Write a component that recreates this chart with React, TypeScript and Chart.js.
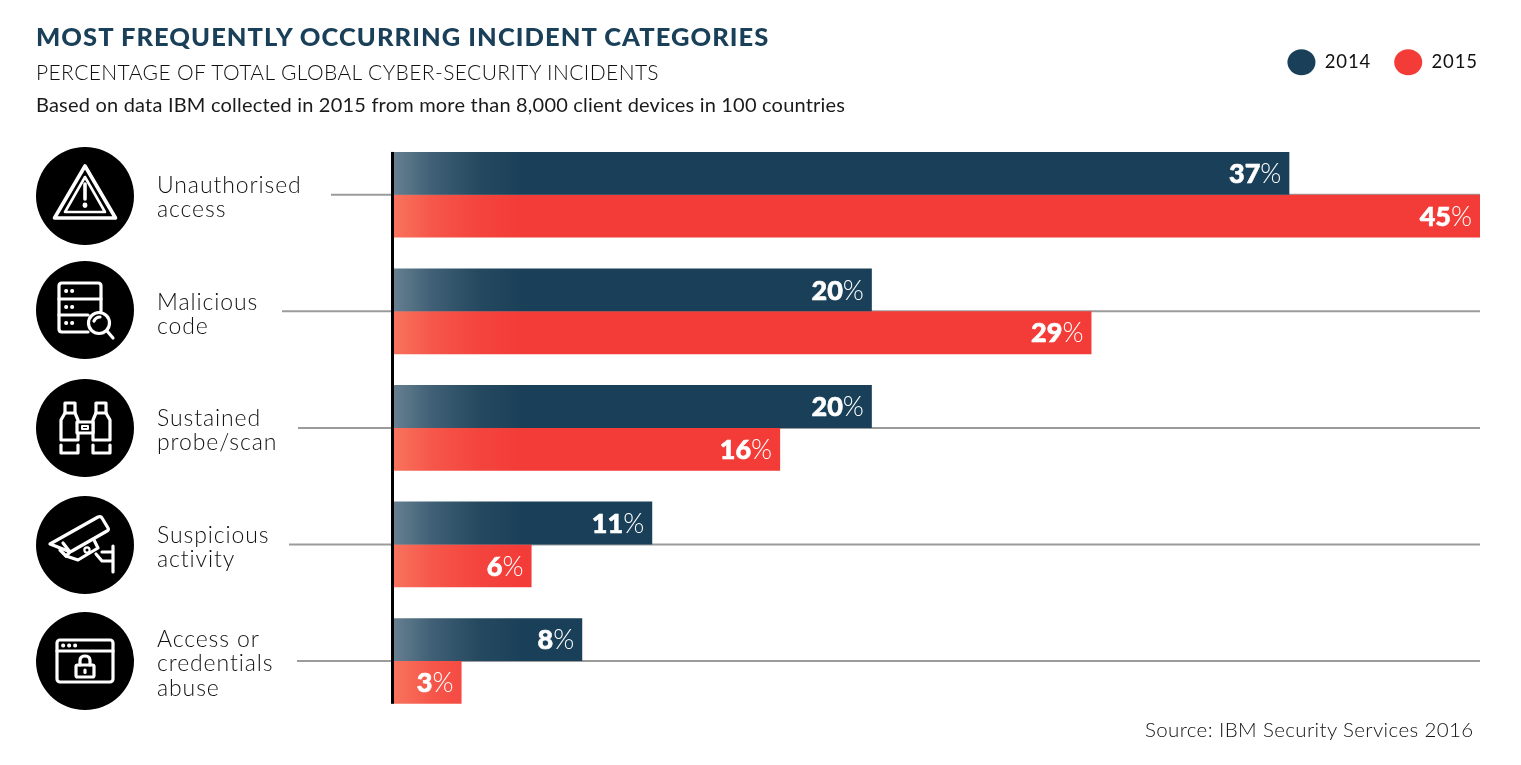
import React, { useEffect, useRef } from "react";
import { Chart, registerables } from "chart.js";

Chart.register(...registerables);

const categories: string[][] = [
  ["Unauthorised", "access"],
  ["Malicious", "code"],
  ["Sustained", "probe/scan"],
  ["Suspicious", "activity"],
  ["Access or", "credentials", "abuse"],
];
const values2014 = [37.1, 19.8, 19.8, 10.7, 7.8];
const values2015 = [45, 28.9, 16.0, 5.7, 2.8];
const seriesNames = ["2014", "2015"];

const DARK = "#1a4059";
const RED = "#f33b37";
const SANS = "Lato, 'Open Sans', sans-serif";

const LEADER_START = [331, 282, 298, 289, 297];
const LEFT = 394;
const AXIS_MAX = 45;
const LABEL_SHIFT = 3;

function gradient(chart: Chart, stops: string[]) {
  const g = chart.ctx.createLinearGradient(LEFT, 0, LEFT + 130, 0);
  const at = [0, 0.3, 0.65, 1];
  stops.forEach((c, i) => g.addColorStop(at[i], c));
  return g;
}

const frame = {
  id: "frame",
  beforeUpdate(chart: any) {
    chart.ctx.letterSpacing = "0.9px";
  },
  afterLayout(chart: any) {
    chart.legend.right = 1501;
  },
  beforeDraw(chart: any) {
    if (chart.$labelsShifted) return;
    chart.$labelsShifted = true;
    chart.scales.y.getLabelItems().forEach((item: any) => {
      item.options.translation[1] += LABEL_SHIFT;
    });
  },
  beforeDatasetsDraw(chart: any) {
    const { ctx, chartArea, scales } = chart;
    ctx.save();
    ctx.strokeStyle = "#9b9b9b";
    ctx.lineWidth = 2;
    categories.forEach((_, i) => {
      const y = scales.y.getPixelForValue(i);
      ctx.beginPath();
      ctx.moveTo(LEADER_START[i], y);
      ctx.lineTo(chartArea.right, y);
      ctx.stroke();
    });
    ctx.restore();
  },
  afterDatasetsDraw(chart: any) {
    const { ctx, chartArea } = chart;
    const first = chart.getDatasetMeta(0).data[0];
    const last = chart.getDatasetMeta(1).data[categories.length - 1];
    const top = first.y - first.height / 2;
    const bottom = last.y + last.height / 2;
    ctx.save();
    ctx.letterSpacing = "0px";
    ctx.fillStyle = "#000";
    ctx.fillRect(chartArea.left - 3, top, 3, bottom - top);

    ctx.textBaseline = "middle";
    ctx.fillStyle = "#fff";
    ctx.strokeStyle = "#fff";
    ctx.lineWidth = 0.6;
    chart.data.datasets.forEach((ds: any, d: number) => {
      chart.getDatasetMeta(d).data.forEach((bar: any, i: number) => {
        const num = String(Math.round(ds.data[i]));
        let x = bar.x - 8;
        ctx.textAlign = "right";
        ctx.font = `300 27px ${SANS}`;
        ctx.fillText("%", x, bar.y + 1);
        x -= ctx.measureText("%").width;
        ctx.font = `900 27px ${SANS}`;
        ctx.fillText(num, x, bar.y + 1);
        ctx.strokeText(num, x, bar.y + 1);
      });
    });
    ctx.restore();
  },
};

const iconStyle: React.CSSProperties = { fill: "none", stroke: "#fff", strokeWidth: 3.2, strokeLinejoin: "round", strokeLinecap: "round" };

const icons: React.ReactNode[] = [
  <g style={iconStyle}>
    <path d="M49 19 L79.5 71 H18.5 Z" strokeWidth={3.6} />
    <path d="M49 30 L69 65 H29 Z" strokeWidth={2.6} />
    <path d="M49 37 V52" strokeWidth={3.6} />
    <path d="M49 58 V58.5" strokeWidth={4.8} />
  </g>,
  <g style={iconStyle}>
    <path d="M52 71 H26 Q23 71 23 68 V25 Q23 22 26 22 H62 Q65 22 65 25 V50" />
    <path d="M23 38 H65 M23 54 H52" />
    <path d="M30 30 H30.3 M36 30 H36.3 M30 46 H30.3 M36 46 H36.3 M30 62 H30.3 M36 62 H36.3" strokeWidth={3.8} />
    <circle cx="63" cy="62" r="10.5" />
    <path d="M71 70 L77 77 M58 60 Q60 56 64 56" />
  </g>,
  <g style={iconStyle}>
    <path d="M29 34 V24 H39 V34 M60 34 V24 H70 V34" />
    <path d="M25 61 V41 L29 34 H39 L42 41 V61 Z M57 61 V41 L60 34 H70 L74 41 V61 Z" />
    <rect x="41" y="43" width="16" height="11" fill="#000" />
    <rect x="46" y="47" width="6" height="3" strokeWidth={2} />
    <path d="M25 66 V74 H42 V66 M57 66 V74 H74 V66" />
  </g>,
  <g style={iconStyle}>
    <path d="M14 48 L62 21 Q65 20 66 22 L72 32 Q73 34 71 35 L36 55 Q34 56 32 55 Z" />
    <path d="M27 47 L34 56 L30 60 L24 54" />
    <path d="M30 60 L42 64 L62 52 L58 44" />
    <circle cx="51" cy="54" r="2.6" strokeWidth={2.2} />
    <path d="M60 58 L66 65 H77 M66 56 H77 M77 50 V76" />
  </g>,
  <g style={iconStyle}>
    <rect x="21" y="28" width="56" height="42" rx="3" />
    <path d="M21 39 H77" />
    <path d="M27 33.5 H27.3 M33 33.5 H33.3 M39 33.5 H39.3" strokeWidth={3.8} />
    <rect x="40" y="53" width="18" height="12" rx="1.5" />
    <path d="M44 53 V49 Q44 44 49 44 Q54 44 54 49 V53" />
    <path d="M49 58 V60.5" />
  </g>,
];
const iconCenters = [196, 310, 428, 545, 661];

const abs = (left: number, top: number, extra: React.CSSProperties): React.CSSProperties => ({
  position: "absolute",
  left,
  top,
  whiteSpace: "nowrap",
  fontFamily: SANS,
  ...extra,
});

export default function App() {
  const ref = useRef<HTMLCanvasElement>(null);
  useEffect(() => {
    const chart = new Chart(ref.current!, {
      type: "bar",
      data: {
        labels: categories as any,
        datasets: [
          {
            label: seriesNames[0],
            data: values2014,
            backgroundColor: (c: any) => gradient(c.chart, ["#667f90", "#3f5f75", "#25495f", DARK]),
          },
          {
            label: seriesNames[1],
            data: values2015,
            backgroundColor: (c: any) => gradient(c.chart, ["#f8735c", "#f6564a", "#f4443e", RED]),
          },
        ],
      },
      plugins: [frame],
      options: {
        indexAxis: "y",
        responsive: false,
        animation: false,
        layout: { padding: { left: 157, right: 41, top: 30, bottom: 45.75 } },
        datasets: { bar: { categoryPercentage: 0.735, barPercentage: 1 } },
        scales: {
          x: {
            position: "top",
            min: 0,
            max: AXIS_MAX,
            grid: { display: false },
            border: { display: false },
            ticks: { display: false },
            afterFit: (s: any) => { s.height = 55; },
          },
          y: {
            grid: { display: false },
            border: { display: false },
            afterFit: (s: any) => { s.width = LEFT - 157; },
            ticks: {
              autoSkip: false,
              crossAlign: "far",
              padding: 0,
              color: "#111",
              font: { family: SANS, size: 23, weight: "300", lineHeight: 1.05 },
            },
          },
        },
        plugins: {
          tooltip: { enabled: false },
          legend: {
            position: "top",
            align: "end",
            labels: {
              usePointStyle: true,
              boxHeight: 20,
              pointStyleWidth: 28,
              padding: 23,
              color: "#111",
              font: { family: SANS, size: 18.5, weight: "400" },
              generateLabels: () =>
                seriesNames.map((text, i) => ({
                  text,
                  fillStyle: i === 0 ? DARK : RED,
                  strokeStyle: "transparent",
                  lineWidth: 0,
                  pointStyle: "circle",
                  datasetIndex: i,
                  fontColor: "#111",
                })),
            },
          },
        },
      } as any,
    });
    return () => chart.destroy();
  }, []);

  return (
    <div style={{ position: "absolute", left: 0, top: 0, width: 1521, height: 765, background: "#fff", overflow: "hidden" }}>
      <canvas ref={ref} width={1521} height={765} style={{ position: "absolute", left: 0, top: 0 }} />
      <div style={abs(36, 19, { fontSize: 25.5, fontWeight: 900, color: DARK, letterSpacing: 1.05, lineHeight: "34px" })}>
        MOST FREQUENTLY OCCURRING INCIDENT CATEGORIES
      </div>
      <div style={abs(36, 58, { fontSize: 21, fontWeight: 300, color: "#111", letterSpacing: 0.4, lineHeight: "28px" })}>
        PERCENTAGE OF TOTAL GLOBAL CYBER-SECURITY INCIDENTS
      </div>
      <div style={abs(36, 90, { fontSize: 20, fontWeight: 400, color: "#1a1a1a", letterSpacing: 0.2, lineHeight: "28px" })}>
        Based on data IBM collected in 2015 from more than 8,000 client devices in 100 countries
      </div>
      <div style={abs(1145, 715, { fontSize: 20.5, fontWeight: 300, color: "#111", letterSpacing: 0.38, lineHeight: "28px" })}>
        Source: IBM Security Services 2016
      </div>
      {icons.map((icon, i) => (
        <svg key={i} width={98} height={98} viewBox="0 0 98 98" style={{ position: "absolute", left: 36, top: iconCenters[i] - 49 }}>
          <circle cx={49} cy={49} r={49} fill="#000" />
          {icon}
        </svg>
      ))}
    </div>
  );
}
